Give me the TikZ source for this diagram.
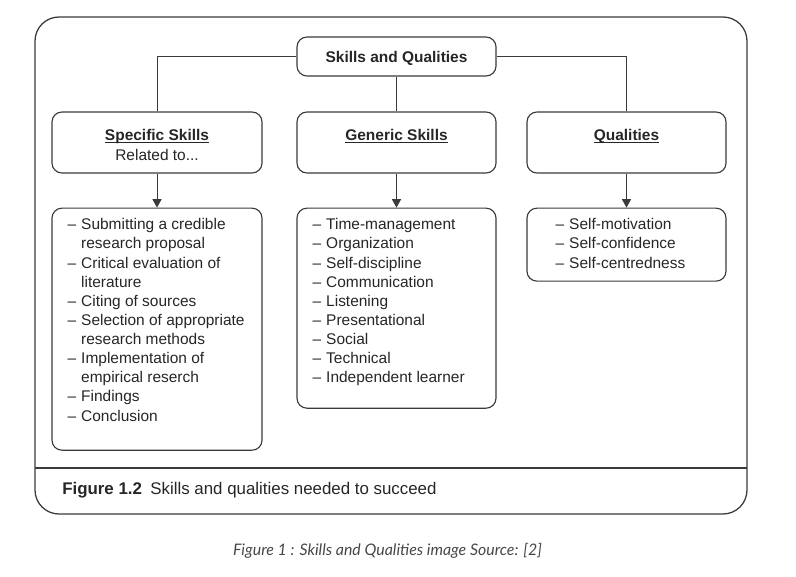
\documentclass[tikz,border=0pt]{standalone}
\usepackage{fontspec}
\setmainfont{Liberation Sans}
\newfontfamily\notefont{Lato}
\usetikzlibrary{positioning,arrows.meta}
\definecolor{ink}{HTML}{262626}
\definecolor{edge}{HTML}{3A3A3A}
\newcommand{\hd}[1]{\rule{0pt}{11pt}\underline{\smash{\textbf{#1}}}}

\begin{document}
\begin{tikzpicture}[x=0.025cm, y=-0.025cm, >={Triangle[length=6pt,width=6.5pt]},
  every node/.style={text=ink, font=\fontsize{11}{14}\selectfont},
  box/.style={draw=edge, line width=0.8pt, rounded corners=0.25cm, minimum width=4.975cm, align=center, inner sep=0pt},
  listbox/.style={box},
  listtext/.style={anchor=north west, inner sep=0pt, font=\fontsize{11}{13.6}\selectfont},
  link/.style={draw=edge, line width=0.6pt}]
  \useasboundingbox (0,0) rectangle (796,577);

  % frame
  \draw[edge, line width=0.9pt, rounded corners=0.6cm] (35,17) rectangle (747,514);
  \draw[edge, line width=0.9pt] (35,468) -- (747,468);

  % top row
  \node[box, minimum height=0.975cm] (sq) at (396.5,56.5) {\rule{0pt}{11pt}\textbf{Skills and Qualities}};

  % second row
  \node[box, minimum width=5.25cm, minimum height=1.525cm] (specific) at (157,142.5) {\hd{Specific Skills}\\Related to...};
  \node[box, minimum height=1.525cm] (generic) at (396.5,142.5) {\hd{Generic Skills}\\\mbox{}};
  \node[box, minimum height=1.525cm] (qualities) at (626.5,142.5) {\hd{Qualities}\\\mbox{}};

  % lists
  \node[listbox, minimum width=5.25cm, minimum height=6.05cm, below=0.85cm of specific] (speclist) {};
  \node[listbox, minimum height=5cm, below=0.85cm of generic] (genlist) {};
  \node[listbox, minimum height=1.825cm, below=0.85cm of qualities] (quallist) {};

  \node[listtext] (spectext) at ([shift={(0.4cm,-0.215cm)}]speclist.north west) {%
    \begin{tabular}{@{}l@{\hspace{3.5pt}}l@{}}
      – & Submitting a credible\\
        & research proposal\\
      – & Critical evaluation of\\
        & literature\\
      – & Citing of sources\\
      – & Selection of appropriate\\
        & research methods\\
      – & Implementation of\\
        & empirical reserch\\
      – & Findings\\
      – & Conclusion
    \end{tabular}};
  \node[listtext] (gentext) at ([shift={(0.4cm,-0.215cm)}]genlist.north west) {%
    \begin{tabular}{@{}l@{\hspace{3.5pt}}l@{}}
      – & Time-management\\
      – & Organization\\
      – & Self-discipline\\
      – & Communication\\
      – & Listening\\
      – & Presentational\\
      – & Social\\
      – & Technical\\
      – & Independent learner
    \end{tabular}};
  \node[listtext] (qualtext) at ([shift={(0.725cm,-0.215cm)}]quallist.north west) {%
    \begin{tabular}{@{}l@{\hspace{3.5pt}}l@{}}
      – & Self-motivation\\
      – & Self-confidence\\
      – & Self-centredness
    \end{tabular}};

  % connectors
  \draw[link] (sq.west) -| (specific.north);
  \draw[link] (sq.east) -| (qualities.north);
  \draw[link] (sq.south) -- (generic.north);
  \draw[link, ->] (specific) -- (speclist);
  \draw[link, ->] (generic) -- (genlist);
  \draw[link, ->] (qualities) -- (quallist);

  % captions
  \node[anchor=west, inner xsep=0pt, font=\fontsize{12}{14}\selectfont] (caption) at (62,490) {\textbf{Figure 1.2}\hspace{6pt}Skills and qualities needed to succeed};
  \node[font=\notefont\itshape\fontsize{11.3}{14}\selectfont, text=ink!85] (source) at (387.5,551) {Figure 1 : Skills and Qualities image Source: [2]};
\end{tikzpicture}
\end{document}
